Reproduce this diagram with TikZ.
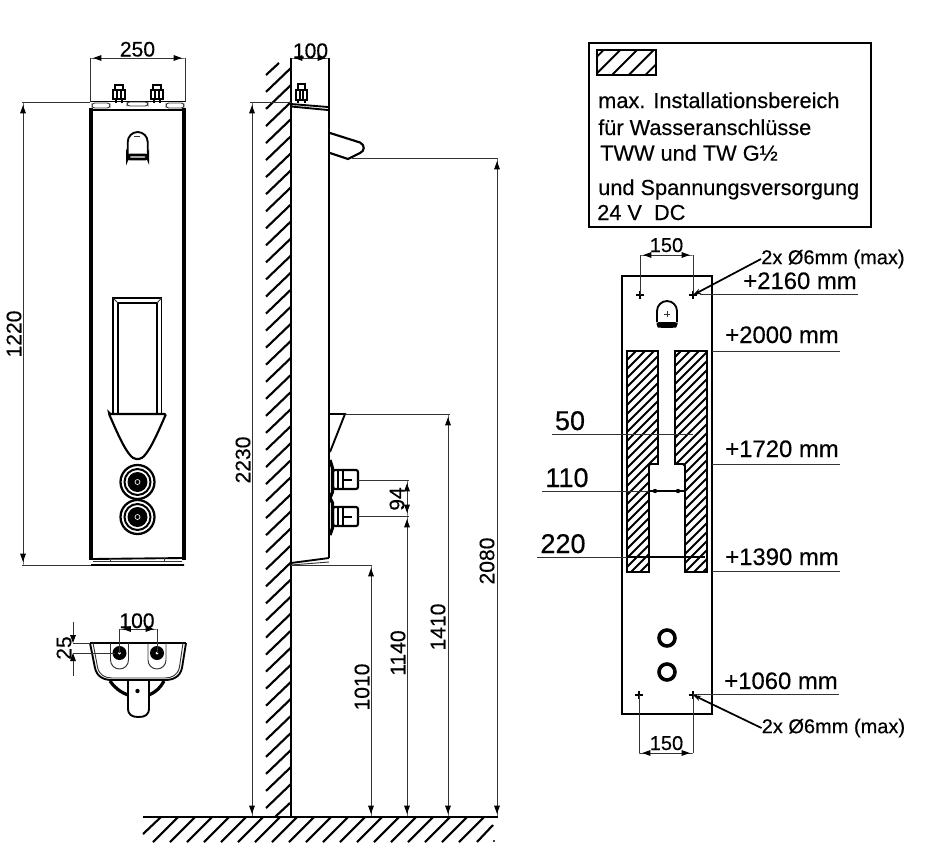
\documentclass[tikz,border=0pt]{standalone}
\usepackage{fontspec}
\setmainfont[FakeBold=0.35]{Liberation Sans}
\usetikzlibrary{arrows.meta}

\begin{document}
\begin{tikzpicture}[x=0.75pt,y=0.75pt,yscale=-1,xscale=1,
  thinline/.style={line width=0.7pt,black!80},
  medline/.style={line width=1.4pt},
  heavyline/.style={line width=2.7pt},
  hatchline/.style={line width=1.4pt},
  dimline/.style={line width=0.7pt,black!80,{Square[length=2.5pt,width=0.7pt] Triangle[length=6pt,width=4.2pt,black]}-{Triangle[length=6pt,width=4.2pt,black] Square[length=2.5pt,width=0.7pt]}},
  leaderline/.style={line width=1.3pt,-{Stealth[length=6pt,width=4pt]}},
  numlabel/.style={font=\fontsize{15.8}{19}\selectfont,inner sep=0pt},
  smalllabel/.style={font=\fontsize{15}{18}\selectfont,inner sep=0pt},
  levellabel/.style={font=\fontsize{17.9}{21}\selectfont,inner sep=0pt},
  biglabel/.style={font=\fontsize{20.3}{24}\selectfont,inner sep=0pt},
  legendlabel/.style={font=\fontsize{16.3}{20}\selectfont,inner sep=0pt,anchor=base west}]
\useasboundingbox[fill=white] (0,0) rectangle (933,851);

%Shape: Front body
\draw [heavyline] (91,108) -- (91,560) (184,108) -- (184,560) ;
\draw [medline] (90,101.5) -- (185,101.5) (93,110) -- (182,110) ;
\draw [thinline,rounded corners=2] (92,103) rectangle (110,108) (127,102) rectangle (148,106) (166,103) rectangle (184,108) ;
\draw [medline,rounded corners=2] (91,559) -- (184,558) (91,565) -- (184,565) ;
\draw [thinline] (93,561) -- (182,561) (110,558) -- (110,561) (164,558) -- (164,561) ;
%Shape: Front studs
\foreach \x in {113,151}{
  \draw [line width=1.8pt] ({\x+2},90) -- ({\x+2},85) -- ({\x+10},85) -- ({\x+10},90) ;
  \draw [line width=1.8pt] (\x,90) rectangle ({\x+12},99) ;
  \draw [medline] ({\x+4},90) -- ({\x+4},99) ({\x+8},90) -- ({\x+8},99) ;
  \draw [line width=2.2pt] ({\x+3},99) -- ({\x+3},103) ({\x+9},99) -- ({\x+9},103) ;
}
%Shape: Front icon
\draw [medline] (127.7,155) -- (127.7,142) arc[start angle=180,end angle=360,radius=10] -- (147.7,155) ;
\draw [line width=2.2pt,rounded corners=2] (127.7,155) -- (127.7,159) -- (147.7,159) -- (147.7,155) -- cycle ;
\draw [thinline] (134,136) -- (140,136) ;
%Shape: Front window
\draw [medline] (113,414) -- (113,298) -- (161.5,298) -- (161.5,414) ;
\draw [medline] (118,414) -- (118,303) -- (157,303) -- (157,414) ;
\draw [thinline] (113,298) -- (118,303) (161.5,298) -- (157,303) ;
\draw [line width=1.6pt,fill=white,rounded corners=1] (109,414) -- (166,414) .. controls (158,432) and (147,459) .. (137.5,459) .. controls (128,459) and (117,432) .. (109,414) -- cycle ;
%Shape: Front knobs
\foreach \y in {482,517}{
  \draw [line width=1.7pt,fill=white] (137.5,\y) circle[radius=17] ;
  \draw [line width=1.5pt] (137.5,\y) circle[radius=13] ;
  \fill (137.5,\y) circle[radius=10] ;
  \draw [white,line width=0.5pt] (137.5,\y) circle[radius=2.5] ;
}
%Straight Lines: front dimensions
\draw [thinline] (90,102) -- (90,58) (185,102) -- (185,58) ;
\draw [dimline] (90,58) -- (185,58) ;
\draw [thinline] (22,102) -- (90,102) (22,565) -- (91,565) ;
\draw [dimline] (23,102) -- (23,565) ;

%Shape: Bottom view
\draw [medline] (90,643) -- (186,643) ;
\draw [medline] (90,643) -- (95,668) .. controls (97,677) and (104,680) .. (112,680) -- (165,680) .. controls (173,680) and (180,677) .. (182,668) -- (186,643) ;
\draw [thinline] (93,643) -- (97.5,667) .. controls (99,675) and (105,678) .. (112,678) -- (165,678) .. controls (172,678) and (178,675) .. (179.5,667) -- (183,643) ;
\foreach \x in {119.5,157}{
  \draw [thinline] ({\x-9},643) -- ({\x-9},660) arc[start angle=180,end angle=0,radius=9] -- ({\x+9},643) ;
  \fill (\x,653) circle[radius=7] ;
  \fill [white] (\x,653) circle[radius=1.5] ;
}
\draw [medline,fill=white] (128,681) -- (128,708) .. controls (128,715) and (132,717) .. (138.5,717) .. controls (145,717) and (149,715) .. (149,708) -- (149,681) ;
\fill (137.5,691) circle[radius=2.2] ;
\draw [line width=2.4pt] (110,681) .. controls (114,687) and (120,692) .. (128,695) (149,695) .. controls (156,692) and (161,687) .. (164,681) ;
\draw [line width=2pt] (137,679) -- (137,681) ;
%Straight Lines: bottom dimensions
\draw [thinline] (119.5,653) -- (119.5,629) (157,653) -- (157,629) ;
\draw [dimline] (119.5,629) -- (157,629) ;
\draw [thinline] (73,643) -- (90,643) (73,653) -- (115,653) ;
\draw [thinline,-{Triangle[length=6pt,width=4.2pt,black]}] (73,622) -- (73,643) ;
\draw [thinline,-{Triangle[length=6pt,width=4.2pt,black]}] (73,676) -- (73,653) ;

%Shape: Wall hatching
\foreach \k in {0,...,42}{
  \draw [line width=1.6pt] (266,{808-17.05*\k}) -- (291,{784-17.05*\k}) ;
}
\draw [line width=1.6pt] (266,75) -- (279,63) (275,817) -- (290,803) ;
%Shape: Side panel
\draw [line width=1.8pt] (291,58) -- (291,817) ;
\draw [line width=1.8pt] (329,58) -- (329,558) ;
\draw [medline] (291,104) -- (328,107) (291,106.5) -- (328,110) ;
\draw [medline] (291,563) -- (329,558) ;
\draw [thinline] (291,565) -- (329,562) ;
%Shape: Side stud
\draw [line width=1.6pt] (298,90) -- (298,84) -- (305,84) -- (305,90) ;
\draw [line width=1.6pt] (296,90) rectangle (307,100) ;
\draw [medline] (300,90) -- (300,100) (303,90) -- (303,100) ;
\draw [line width=1.8pt] (298,100) -- (298,103) (305,100) -- (305,103) ;
%Shape: Spout
\draw [line width=1.6pt] (330,133) -- (360,142.5) .. controls (365,145) and (365,151) .. (360,153) -- (348,159) -- (330,153) ;
%Shape: Wedge
\draw [medline] (329,414) -- (345,414) -- (330,452) ;
%Shape: Bulge
\draw [line width=2.4pt] (330,460) -- (332.5,468) -- (332.5,492) -- (330,498) -- (332.5,503) -- (332.5,528) -- (330,535) ;
%Shape: Side fittings
\foreach \y in {470,507}{
  \draw [line width=1.6pt,rounded corners=1.5] (333,\y) rectangle (358,{\y+19}) ;
  \draw [line width=1.6pt] (338,\y) -- (338,{\y+19}) (343,\y) -- (343,{\y+19}) ;
  \draw [line width=1.6pt] (343,{\y+10}) -- (352,{\y+10}) ;
}
%Straight Lines: side dimensions
\draw [thinline] (250,102) -- (291,102) ;
\draw [dimline] (252,102) -- (252,817) ;
\draw [dimline] (291,58) -- (329,58) ;
\draw [thinline] (352,158) -- (498,158) ;
\draw [dimline] (497,158) -- (497,817) ;
\draw [thinline] (345,414) -- (450,414) ;
\draw [dimline] (448,414) -- (448,817) ;
\draw [thinline] (358,480) -- (409,480) (358,516) -- (409,516) ;
\draw [dimline] (407,480) -- (407,516) ;
\draw [dimline] (407,516) -- (407,817) ;
\draw [thinline] (291,565) -- (372,565) ;
\draw [dimline] (371,565) -- (371,817) ;
%Shape: Ground
\draw [line width=1.8pt] (143,817) -- (498,817) ;
\draw [line width=1.6pt] (143,834) -- (161,817) ;
\foreach \k in {0,...,18}{
  \draw [line width=1.6pt] ({153+17*\k},842) -- ({178+17*\k},817) ;
}
\draw [line width=1.6pt] (477,842) -- (493,825) ;
\fill (494,841) circle[radius=1.2] ;

%Shape: Legend box
\draw [line width=1.6pt] (589,43) rectangle (871,227) ;
\begin{scope}
  \clip (597,50) rectangle (656,75) ;
  \foreach \s in {653.6,670.3,687,703.7,720.4}{
    \draw [hatchline] ({\s-50},50) -- ({\s-75},75) ;
  }
\end{scope}
\draw [medline] (597,50) rectangle (656,75) ;

%Shape: Mounting plate
\draw [line width=1.8pt] (622,276) rectangle (712,714) ;
\begin{scope}
  \clip (627,351) -- (658,351) -- (658,464) -- (650,464) -- (649,466) -- (649,572) -- (627,572) -- cycle ;
  \foreach \s in {960,969,...,1300}{
    \draw [hatchline] ({\s-300},300) -- ({\s-600},600) ;
  }
\end{scope}
\begin{scope}
  \clip (675,351) -- (707,351) -- (707,572) -- (685,572) -- (685,466) -- (683,464) -- (675,464) -- cycle ;
  \foreach \s in {960,969,...,1300}{
    \draw [hatchline] ({\s-300},300) -- ({\s-600},600) ;
  }
\end{scope}
\draw [medline] (627,351) -- (658,351) -- (658,464) -- (650,464) -- (649,466) -- (649,572) -- (627,572) -- cycle ;
\draw [medline] (675,351) -- (707,351) -- (707,572) -- (685,572) -- (685,466) -- (683,464) -- (675,464) -- cycle ;
%Shape: Plate icon
\draw [medline] (657,322) -- (657,311) arc[start angle=180,end angle=360,radius=10] -- (677,322) ;
\fill [rounded corners=2] (656.5,322) -- (677.5,322) -- (677.5,325) .. controls (676,328) and (658,328) .. (656.5,325) -- cycle ;
\draw [thinline] (664,314) -- (670,314) (667,311) -- (667,317) ;
%Shape: Plate crosses
\draw [medline] (640,291) -- (640,299) (636,295) -- (644,295) (693,291) -- (693,299) (689,295) -- (697,295) ;
\draw [medline] (639,691) -- (639,699) (635,695) -- (643,695) (693,691) -- (693,699) (689,695) -- (697,695) ;
%Shape: Plate holes
\draw [line width=2.7pt] (667,638) circle[radius=8] (667,672) circle[radius=8] ;
%Straight Lines: plate dimensions
\draw [thinline] (640,295) -- (640,255) (693,295) -- (693,255) ;
\draw [dimline] (640,255) -- (693,255) ;
\draw [thinline] (639,695) -- (639,753) (693,695) -- (693,753) ;
\draw [dimline] (639,753) -- (693,753) ;
\draw [thinline] (700,294) -- (858,294) (712,351) -- (840,351) (712,464) -- (840,464) (712,571) -- (840,571) (693,694) -- (839,694) ;
\draw [thinline] (552,434) -- (693,434) (542,491) -- (685,491) (537,557) -- (705,557) ;
\draw [medline] (649,491) -- (685,491) ;
\draw [line width=1.7pt] (627,557) -- (705,557) ;
\fill (655,491) circle[radius=2.2] (678,491) circle[radius=2.2] ;

% Text Node
\draw (137.5,56.5) node [numlabel,anchor=base] (widthLabel) {250};
% Text Node
\draw (14,334) node [numlabel,rotate=90] (heightLabel) {1220};
% Text Node
\draw (137,628) node [numlabel,anchor=base] (studLabel) {100};
% Text Node
\draw (64,648) node [numlabel,rotate=90] (offsetLabel) {25};
% Text Node
\draw (310.5,58) node [numlabel,anchor=base] (depthLabel) {100};
% Text Node
\draw (243,460) node [numlabel,rotate=90] (wallLabel) {2230};
% Text Node
\draw (362,687) node [numlabel,rotate=90] (lowLabel) {1010};
% Text Node
\draw (398,653) node [numlabel,rotate=90] (pipeLabel) {1140};
% Text Node
\draw (397,499) node [numlabel,rotate=90] (pitchLabel) {94};
% Text Node
\draw (438,627) node [numlabel,rotate=90] (wedgeLabel) {1410};
% Text Node
\draw (487,561) node [numlabel,rotate=90] (spoutLabel) {2080};
% Text Node
\draw (598,108) node [legendlabel] (legendA) {max. Installationsbereich};
% Text Node
\draw (598,135) node [legendlabel] (legendB) {für Wasseranschlüsse};
% Text Node
\draw (600,160.7) node [legendlabel] (legendC) {TWW und TW G½};
% Text Node
\draw (598,195) node [legendlabel] (legendD) {und Spannungsversorgung};
% Text Node
\draw (597,220) node [legendlabel] (legendE) {24 V\ \ DC};
% Text Node
\draw (666.5,252) node [smalllabel,anchor=base] (topPitch) {150};
% Text Node
\draw (761,259) node [smalllabel,anchor=west] (topNote) {2x Ø6mm (max)};
% Text Node
\draw (800,289) node [levellabel,anchor=base] (levelA) {+2160 mm};
% Text Node
\draw (782,343) node [levellabel,anchor=base] (levelB) {+2000 mm};
% Text Node
\draw (782,457) node [levellabel,anchor=base] (levelC) {+1720 mm};
% Text Node
\draw (782,565) node [levellabel,anchor=base] (levelD) {+1390 mm};
% Text Node
\draw (781,689) node [levellabel,anchor=base] (levelE) {+1060 mm};
% Text Node
\draw (570,430) node [biglabel,anchor=base] (gapA) {50};
% Text Node
\draw (567,487) node [biglabel,anchor=base] (gapB) {110};
% Text Node
\draw (563,553) node [biglabel,anchor=base] (gapC) {220};
% Text Node
\draw (666.5,750) node [smalllabel,anchor=base] (lowPitch) {150};
% Text Node
\draw (761.5,728) node [smalllabel,anchor=west] (lowNote) {2x Ø6mm (max)};

%Straight Lines: leaders
\coordinate (topHole) at (693,295);
\coordinate (lowHole) at (693,695);
\draw [leaderline] (topNote.west) -- (topHole) ;
\draw [leaderline] (lowNote.west) -- (lowHole) ;

\end{tikzpicture}
\end{document}
